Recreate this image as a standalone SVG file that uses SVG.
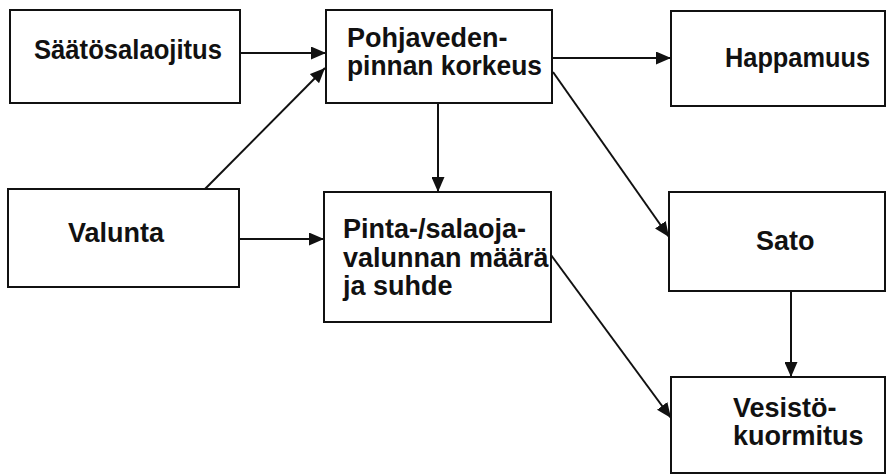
<svg xmlns="http://www.w3.org/2000/svg" width="887" height="474" viewBox="0 0 887 474">
  <style>
    .box { fill: #ffffff; stroke: #111111; stroke-width: 2; }
    .lbl { font-family: "Liberation Sans", Arial, sans-serif; font-weight: bold; font-size: 27px; fill: #111111; }
    .edge { stroke: #111111; stroke-width: 2; fill: none; marker-end: url(#head); }
  </style>
  <defs>
    <marker id="head" markerUnits="userSpaceOnUse" markerWidth="15" markerHeight="13" refX="15" refY="6.5" orient="auto">
      <path d="M0,0 L15,6.5 L0,13 z" fill="#111111"/>
    </marker>
  </defs>
  <rect width="887" height="474" fill="#ffffff"/>

  <g id="saatosalaojitus">
    <rect class="box" x="10" y="10" width="230" height="93"/>
    <text class="lbl" x="34" y="59" textLength="188" lengthAdjust="spacingAndGlyphs">Säätösalaojitus</text>
  </g>
  <g id="pohjaveden">
    <rect class="box" x="326" y="10" width="226" height="93"/>
    <text class="lbl" x="347" y="47">Pohjaveden-</text>
    <text class="lbl" x="347" y="75" textLength="195" lengthAdjust="spacingAndGlyphs">pinnan korkeus</text>
  </g>
  <g id="happamuus">
    <rect class="box" x="671" y="11" width="214" height="95"/>
    <text class="lbl" x="725" y="67" textLength="145" lengthAdjust="spacingAndGlyphs">Happamuus</text>
  </g>
  <g id="valunta">
    <rect class="box" x="8" y="189" width="231" height="98"/>
    <text class="lbl" x="68" y="242">Valunta</text>
  </g>
  <g id="pinta">
    <rect class="box" x="324" y="192" width="227" height="130"/>
    <text class="lbl" x="343" y="238">Pinta-/salaoja-</text>
    <text class="lbl" x="343" y="267">valunnan määrä</text>
    <text class="lbl" x="343" y="295">ja suhde</text>
  </g>
  <g id="sato">
    <rect class="box" x="669" y="192" width="216" height="99"/>
    <text class="lbl" x="756" y="250">Sato</text>
  </g>
  <g id="vesisto">
    <rect class="box" x="671" y="377" width="214" height="96"/>
    <text class="lbl" x="733" y="417">Vesistö-</text>
    <text class="lbl" x="733" y="445">kuormitus</text>
  </g>

  <g id="connectors">
    <line class="edge" x1="240" y1="53" x2="326" y2="53"/>
    <line class="edge" x1="205" y1="189" x2="325" y2="68"/>
    <line class="edge" x1="552" y1="58" x2="671" y2="58"/>
    <line class="edge" x1="553" y1="72" x2="669" y2="237"/>
    <line class="edge" x1="438" y1="103" x2="438" y2="192"/>
    <line class="edge" x1="239" y1="239" x2="324" y2="239"/>
    <line class="edge" x1="551" y1="255" x2="671" y2="418"/>
    <line class="edge" x1="791" y1="291" x2="791" y2="377"/>
  </g>
</svg>
